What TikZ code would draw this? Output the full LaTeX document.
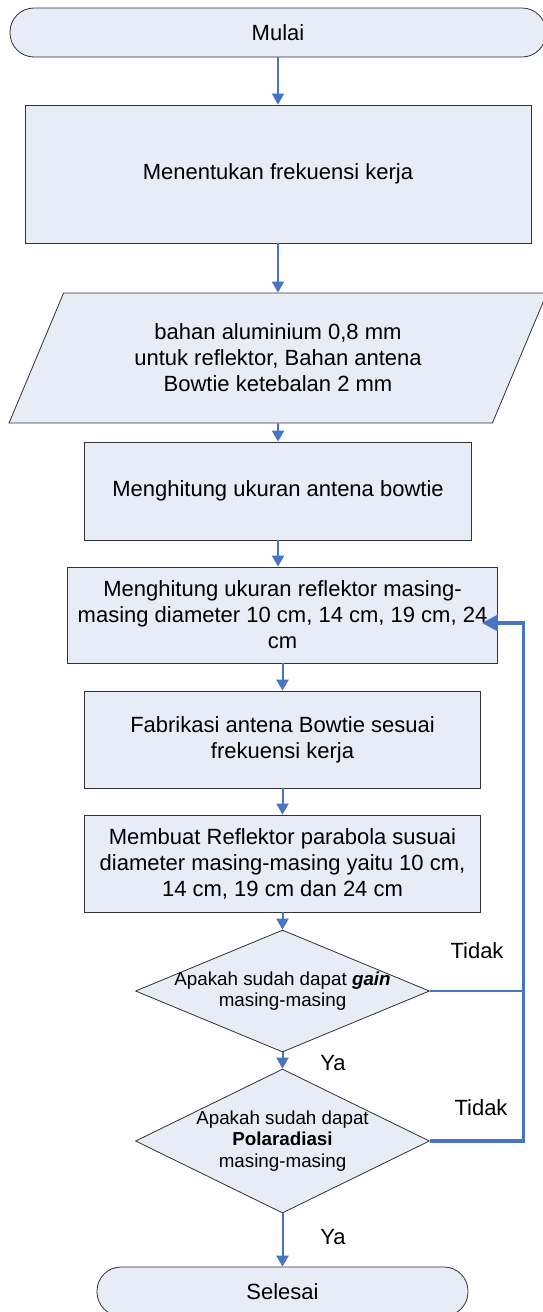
\documentclass[tikz,border=0pt]{standalone}
\usepackage{fontspec}
\setmainfont{Liberation Sans}
\usepackage{tikz}
\usetikzlibrary{arrows.meta, shapes.geometric, calc}

\definecolor{boxfill}{RGB}{231,236,247}
\definecolor{boxline}{RGB}{50,50,50}
\definecolor{flowblue}{RGB}{71,117,196}

\begin{document}
\begin{tikzpicture}[x=1pt, y=-1pt,
		flowbox/.style = {draw=boxline, fill=boxfill, line width=0.8pt,
					font=\fontsize{22}{26}\selectfont, align=center,
					inner sep=2pt},
		terminal/.style = {flowbox, rounded corners=24pt, minimum height=49pt},
		process/.style = {flowbox, rectangle},
		io/.style = {flowbox, trapezium, trapezium left angle=62.8,
					trapezium right angle=117.2, trapezium stretches=true},
		decision/.style = {draw=boxline, fill=boxfill, line width=0.8pt,
					diamond, inner sep=0pt},
		decision text/.style = {font=\fontsize{18.8}{21.5}\selectfont,
					align=center, inner sep=0pt},
		flowarrow/.style = {draw=flowblue, line width=2pt,
					-{Triangle[length=11pt,width=12pt]}},
		flowline/.style = {draw=flowblue, line width=2pt},
		backarrow/.style = {draw=flowblue, line width=3.5pt,
					-{Triangle[length=16pt,width=16pt]}},
		answer/.style = {font=\fontsize{22}{26}\selectfont}
                   ]

%Page size
    \useasboundingbox (0,0) rectangle (543,1312);

%Define columns
    \pgfmathsetmacro{\colA}{278}
    \pgfmathsetmacro{\colB}{282.5}

%Upper column
    \node[terminal, minimum width=536pt] (mulai) at (\colA,32.5) {Mulai};
    \node[process, minimum width=506pt, minimum height=138pt] (tentukan) at (\colA,174) {Menentukan frekuensi kerja};
    \node[io, minimum width=538.7pt, minimum height=130pt] (bahan) at (\colA,358)
        {bahan aluminium 0,8 mm\\untuk reflektor, Bahan antena\\Bowtie ketebalan 2 mm};
    \node[process, minimum width=387.6pt, minimum height=98pt] (bowtie) at (\colA,491) {Menghitung ukuran antena bowtie};

%Lower column
    \node[process, minimum width=430pt, minimum height=96pt] (reflektor) at (\colB,615)
        {Menghitung ukuran reflektor masing-\\masing diameter 10 cm, 14 cm, 19 cm, 24\\cm};
    \node[process, minimum width=395.6pt, minimum height=97pt] (fabrikasi) at (\colB,739.5)
        {Fabrikasi antena Bowtie sesuai\\frekuensi kerja};
    \node[process, minimum width=395.6pt, minimum height=97pt] (parabola) at (\colB,863.5)
        {Membuat Reflektor parabola susuai\\diameter masing-masing yaitu 10 cm,\\14 cm, 19 cm dan 24 cm};

%Decisions
    \node[decision, minimum width=294pt, minimum height=122pt] (gain) at (\colB,991) {};
    \node[decision text] (gaintext) at (gain) {Apakah sudah dapat \textbf{\textit{gain}}\\masing-masing};
    \node[decision, minimum width=294pt, minimum height=144pt] (polar) at (\colB,1141) {};
    \node[decision text] (polartext) at (polar) {Apakah sudah dapat\\\textbf{Polaradiasi}\\masing-masing};

    \node[terminal, minimum width=371pt] (selesai) at (\colB,1291.5) {Selesai};

%Arrows
    \draw[flowarrow] (mulai) -- (tentukan);
    \draw[flowarrow] (tentukan) -- (bahan);
    \draw[flowarrow] (bahan) -- (bowtie);
    \draw[flowarrow] (bowtie.south) -- (bowtie.south |- reflektor.north);
    \draw[flowarrow] (reflektor) -- (fabrikasi);
    \draw[flowarrow] (fabrikasi) -- (parabola);
    \draw[flowarrow] (parabola) -- (gain);
    \draw[flowarrow] (gain) -- (polar);
    \draw[flowarrow] (polar) -- (selesai);

%Loop back
    \draw[backarrow] (polar.east) -- ++(93.5,0) coordinate (loopturn)
        |- ([xshift=-16pt,yshift=-8pt]reflektor.east);
    \draw[flowline] (gain.east) -- (gain.east -| loopturn);

%Answers
    \node[answer] (tidak1) at (477,951) {Tidak};
    \node[answer] (tidak2) at (481,1108) {Tidak};
    \node[answer] (ya1) at (333,1063) {Ya};
    \node[answer] (ya2) at (333,1237) {Ya};

\end{tikzpicture}
\end{document}
